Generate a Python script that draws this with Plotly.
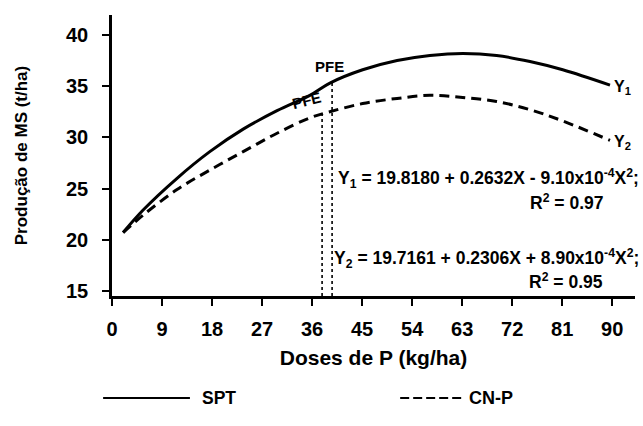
import plotly.graph_objects as go

# Data
dose_spt = [2.0, 5.6, 11.7, 17.6, 23.6, 29.7, 35.6, 39.2, 45.1, 51.3, 57.2, 63.1, 69.2, 75.2, 81.1, 89.6]
ms_spt = [20.7, 22.9, 26.0, 28.6, 30.8, 32.6, 34.1, 35.3, 36.6, 37.5, 38.0, 38.2, 38.0, 37.4, 36.6, 35.1]
dose_cnp = [2.0, 5.6, 11.7, 17.6, 23.6, 29.7, 35.6, 39.2, 45.1, 51.3, 57.2, 63.1, 69.2, 75.2, 81.1, 89.6]
ms_cnp = [20.7, 22.4, 24.9, 26.8, 28.6, 30.4, 31.9, 32.5, 33.3, 33.8, 34.1, 33.9, 33.5, 32.7, 31.6, 29.7]
pfe_x = [39.6, 37.8]
pfe_y = [35.3, 32.3]
x_ticks = [0, 9, 18, 27, 36, 45, 54, 63, 72, 81, 90]
y_ticks = [15, 20, 25, 30, 35, 40]
series_names = ["SPT", "CN-P"]

FONT = "Liberation Sans"
Y_MIN = 14.5

fig = go.Figure()
fig.add_trace(go.Scatter(x=dose_spt, y=ms_spt, mode="lines", name=series_names[0],
                         line=dict(color="black", width=3, shape="spline"), showlegend=False))
fig.add_trace(go.Scatter(x=dose_cnp, y=ms_cnp, mode="lines", name=series_names[1],
                         line=dict(color="black", width=3, dash="10px,6px", shape="spline"), showlegend=False))
for px, py in zip(pfe_x, pfe_y):
    fig.add_trace(go.Scatter(x=[px, px], y=[Y_MIN, py], mode="lines",
                             line=dict(color="black", width=1.6, dash="dot"), showlegend=False))

ann = []
ann.append(dict(x=pfe_x[0], y=pfe_y[0], text="<b>PFE</b>", showarrow=False, xanchor="center",
                yanchor="bottom", yshift=6, xshift=-3, font=dict(size=15, family=FONT, color="black")))
ann.append(dict(x=pfe_x[1], y=pfe_y[1], text="<b>PFE</b>", showarrow=False, xanchor="center",
                yanchor="bottom", yshift=-1, xshift=-16, textangle=-14, font=dict(size=15, family=FONT, color="black")))
ann.append(dict(x=dose_spt[-1], y=ms_spt[-1], text="<b>Y<sub>1</sub></b>", showarrow=False, xanchor="left",
                yanchor="middle", xshift=2, yshift=-2, font=dict(size=16, family=FONT, color="black")))
ann.append(dict(x=dose_cnp[-1], y=ms_cnp[-1], text="<b>Y<sub>2</sub></b>", showarrow=False, xanchor="left",
                yanchor="middle", xshift=2, yshift=-2, font=dict(size=16, family=FONT, color="black")))
eqf = dict(size=17.5, family=FONT, color="black")
ann.append(dict(x=1.0, y=26.0, xref="paper", xshift=6, text="<b>Y<sub>1</sub> = 19.8180 + 0.2632X - 9.10x10<sup>-4</sup>X<sup>2</sup>;</b>",
                showarrow=False, xanchor="right", yanchor="middle", font=eqf))
ann.append(dict(x=0.943, y=23.7, xref="paper", text="<b>R<sup>2</sup> = 0.97</b>",
                showarrow=False, xanchor="right", yanchor="middle", font=eqf))
ann.append(dict(x=1.0, y=18.2, xref="paper", xshift=6, text="<b>Y<sub>2</sub> = 19.7161 + 0.2306X + 8.90x10<sup>-4</sup>X<sup>2</sup>;</b>",
                showarrow=False, xanchor="right", yanchor="middle", font=eqf))
ann.append(dict(x=0.943, y=16.0, xref="paper", text="<b>R<sup>2</sup> = 0.95</b>",
                showarrow=False, xanchor="right", yanchor="middle", font=eqf))
# legend text
ann.append(dict(x=0.168, y=-0.363, xref="paper", yref="paper", text="<b>" + series_names[0] + "</b>",
                showarrow=False, xanchor="left", yanchor="middle", font=dict(size=17.5, family=FONT, color="black")))
ann.append(dict(x=0.679, y=-0.363, xref="paper", yref="paper", text="<b>" + series_names[1] + "</b>",
                showarrow=False, xanchor="left", yanchor="middle", font=dict(size=18, family=FONT, color="black")))

shapes = [
    dict(type="line", xref="paper", yref="paper", x0=-0.017, x1=0.149, y0=-0.363, y1=-0.363,
         line=dict(color="black", width=2)),
    dict(type="line", xref="paper", yref="paper", x0=0.551, x1=0.673, y0=-0.363, y1=-0.363,
         line=dict(color="black", width=2, dash="9px,4px")),
]

fig.update_layout(
    width=643, height=426,
    margin=dict(l=112, r=8, t=15, b=130),
    paper_bgcolor="white", plot_bgcolor="white",
    font=dict(family=FONT, color="black"),
    annotations=ann, shapes=shapes,
    xaxis=dict(range=[0, 94.1], tickvals=x_ticks, ticktext=[f"<b>{v}</b>" for v in x_ticks],
               automargin=False, ticklabelstandoff=6,
               showgrid=False, zeroline=False, showline=True, linecolor="black", linewidth=2.5,
               ticks="outside", ticklen=7, tickwidth=2, tickcolor="black",
               tickfont=dict(size=20, family=FONT),
               title=dict(text="<b>Doses de P (kg/ha)</b>", font=dict(size=21, family=FONT), standoff=12)),
    yaxis=dict(range=[Y_MIN, 41.95], tickvals=y_ticks, ticktext=[f"<b>{v}</b>" for v in y_ticks],
               automargin=False, ticklabelstandoff=10,
               showgrid=False, zeroline=False, showline=True, linecolor="black", linewidth=2.5,
               ticks="outside", ticklen=7, tickwidth=2, tickcolor="black",
               tickfont=dict(size=20, family=FONT),
               title=dict(text="<b>Produção de MS (t/ha)</b>", font=dict(size=17, family=FONT), standoff=35)),
)

fig.write_html("out.html", config={"displayModeBar": False},
               post_script="document.body.style.margin='0';")
